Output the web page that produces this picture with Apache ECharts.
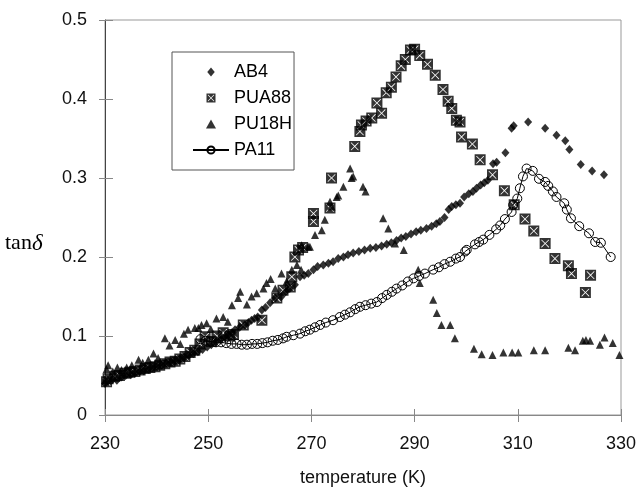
<!DOCTYPE html>
<html><head><meta charset="utf-8">
<script src="https://cdn.jsdelivr.net/npm/echarts@6/dist/echarts.min.js"></script>
<style>html,body{margin:0;padding:0;background:#fff}#c{width:640px;height:496px}</style>
</head><body><div id="c"></div>
<script>
// ---- data (temperature K, tan delta) ----
const seriesNames = ['AB4', 'PUA88', 'PU18H', 'PA11'];
const xTicks = [230, 250, 270, 290, 310, 330];
const yTicks = [0, 0.1, 0.2, 0.3, 0.4, 0.5];

const ab4T = [230.0,230.6,231.5,232.3,233.2,234.0,235.0,235.8,236.7,237.5,238.4,239.3,240.1,241.0,241.9,242.8,243.6,244.5,245.4,246.2,247.1,248.0,248.9,249.8,250.6,251.5,252.4,253.2,253.9,254.6,255.2,256.1,257.1,257.8,258.4,259.0,259.6,260.4,261.1,262.0,263.0,264.2,265.0,265.8,266.8,267.8,268.6,269.4,270.4,271.2,272.3,273.3,274.2,275.2,276.2,277.1,278.1,279.2,280.3,281.4,282.5,283.6,284.6,285.5,286.5,287.4,288.3,289.3,290.3,291.2,292.3,293.3,294.2,294.9,295.8,296.6,297.2,298.0,298.8,299.6,300.5,301.3,302.0,302.8,303.5,304.2,305.2,305.9,307.6,308.8,309.2,312.0,315.3,317.5,319.2,320.0,322.2,324.4,326.7];
const ab4Y = [0.040,0.043,0.045,0.044,0.048,0.050,0.051,0.053,0.055,0.056,0.058,0.060,0.062,0.063,0.066,0.067,0.069,0.071,0.073,0.075,0.078,0.080,0.083,0.086,0.089,0.092,0.095,0.098,0.101,0.104,0.108,0.111,0.114,0.117,0.120,0.122,0.124,0.133,0.136,0.142,0.148,0.150,0.156,0.160,0.165,0.175,0.177,0.179,0.184,0.188,0.190,0.192,0.194,0.198,0.200,0.203,0.205,0.207,0.209,0.211,0.212,0.214,0.216,0.218,0.221,0.224,0.226,0.229,0.232,0.234,0.236,0.239,0.242,0.245,0.250,0.260,0.264,0.266,0.268,0.276,0.280,0.283,0.287,0.291,0.294,0.297,0.318,0.320,0.332,0.363,0.366,0.371,0.363,0.354,0.347,0.336,0.317,0.309,0.304];

const pua88T = [230.3,230.6,231.9,232.8,233.9,234.8,235.8,236.8,237.8,238.7,239.7,240.6,241.6,242.6,243.6,244.5,245.5,246.5,247.4,248.4,249.4,250.6,251.7,252.9,254.2,254.9,256.8,260.4,263.3,264.5,265.9,266.2,266.8,267.5,268.3,270.4,270.4,273.6,273.9,278.4,279.4,279.7,280.6,281.7,282.7,283.6,284.5,285.5,286.4,287.4,288.2,289.2,290.0,291.0,292.5,294.0,295.5,296.5,297.2,298.1,298.8,299.1,301.2,302.7,305.1,307.4,309.3,311.4,313.1,315.3,317.2,319.8,320.4,323.1,324.1];
const pua88Y = [0.042,0.046,0.049,0.050,0.053,0.054,0.055,0.057,0.059,0.060,0.061,0.063,0.065,0.067,0.068,0.071,0.074,0.079,0.082,0.090,0.099,0.093,0.100,0.104,0.100,0.102,0.114,0.120,0.148,0.158,0.162,0.175,0.200,0.209,0.212,0.245,0.255,0.262,0.300,0.340,0.359,0.367,0.372,0.376,0.395,0.382,0.408,0.415,0.428,0.442,0.450,0.462,0.463,0.455,0.444,0.430,0.412,0.397,0.388,0.373,0.371,0.352,0.343,0.323,0.304,0.284,0.266,0.248,0.233,0.217,0.198,0.189,0.179,0.155,0.177];

const pu18hT = [230.3,230.6,231.5,232.4,233.2,234.2,235.2,236.5,237.3,238.4,239.4,240.3,241.6,242.5,243.6,244.6,245.3,246.1,247.4,248.1,248.7,249.7,250.5,251.6,252.9,253.8,254.6,255.8,256.2,257.5,258.4,259.4,260.7,261.3,262.1,263.0,264.2,265.2,266.2,267.2,268.0,268.1,269.4,269.7,270.7,272.0,272.6,273.6,273.9,274.9,275.2,276.2,277.5,277.8,278.1,280.0,280.5,283.9,284.9,286.2,287.9,290.7,291.0,293.6,294.3,295.2,296.9,297.8,301.5,303.0,305.1,307.2,308.9,310.1,313.1,315.3,319.8,321.1,322.6,323.2,324.0,325.9,326.8,328.4,329.7];
const pu18hY = [0.058,0.063,0.055,0.060,0.057,0.060,0.063,0.070,0.066,0.070,0.078,0.072,0.097,0.088,0.095,0.090,0.103,0.108,0.110,0.110,0.114,0.116,0.109,0.122,0.124,0.118,0.139,0.148,0.156,0.140,0.150,0.154,0.160,0.167,0.172,0.160,0.179,0.169,0.184,0.190,0.184,0.215,0.213,0.213,0.228,0.234,0.247,0.270,0.264,0.276,0.278,0.289,0.312,0.300,0.302,0.289,0.283,0.249,0.236,0.217,0.209,0.184,0.167,0.146,0.129,0.114,0.114,0.097,0.084,0.077,0.076,0.079,0.079,0.079,0.082,0.082,0.085,0.082,0.094,0.095,0.094,0.089,0.098,0.091,0.076];

const pa11T = [248.5,249.5,250.5,251.5,252.5,253.5,254.5,255.5,256.5,257.5,258.5,259.5,260.5,261.5,262.5,263.5,264.5,265.2,266.5,267.8,268.8,269.7,270.7,271.7,272.8,274.2,275.5,276.5,277.5,278.5,279.4,280.5,281.6,282.7,283.7,284.6,285.6,286.5,287.6,288.7,289.8,290.9,292.0,293.6,294.7,295.8,296.9,298.0,298.8,299.8,300.1,301.7,302.5,303.3,304.5,305.8,306.6,307.5,308.8,309.1,309.9,310.4,311.0,311.7,312.9,314.1,315.3,315.9,316.8,317.5,319.0,319.5,320.3,321.9,323.8,325.0,326.1,328.0];
const pa11Y = [0.096,0.094,0.093,0.092,0.092,0.091,0.090,0.090,0.089,0.089,0.090,0.090,0.091,0.092,0.094,0.095,0.097,0.099,0.101,0.103,0.106,0.108,0.111,0.114,0.117,0.120,0.124,0.127,0.130,0.134,0.137,0.139,0.141,0.143,0.148,0.152,0.156,0.160,0.164,0.169,0.173,0.176,0.179,0.184,0.187,0.191,0.194,0.198,0.200,0.207,0.209,0.216,0.219,0.222,0.228,0.235,0.240,0.248,0.257,0.266,0.274,0.287,0.302,0.312,0.309,0.299,0.295,0.290,0.283,0.276,0.268,0.260,0.249,0.239,0.230,0.219,0.218,0.200];

// ---- chart ----
const pair = (xs, ys) => xs.map((x, i) => [x, ys[i]]);
const boxX = 'path://M0 0L20 0L20 3L0 3Z M0 17L20 17L20 20L0 20Z M0 3L3 3L3 17L0 17Z M17 3L20 3L20 17L17 17Z M4 3L16 3L10 9Z M17 4L17 16L11 10Z M16 17L4 17L10 11Z M3 16L3 4L9 10Z';
const diamondPath = 'path://M5 0L10 6L5 12L0 6Z';
const trianglePath = 'path://M5 0L10 9L0 9Z';
const FONT = 'Liberation Sans, Arial, sans-serif';
const SERIF = 'Liberation Serif, Times New Roman, serif';

const chart = echarts.init(document.getElementById('c'), null, {renderer: 'canvas'});
const xAxisBase = {
  type: 'value', min: xTicks[0], max: xTicks[xTicks.length - 1], interval: 20,
  position: 'bottom', gridIndex: 0, splitLine: {show: false}
};
const yAxisBase = {
  type: 'value', min: yTicks[0], max: yTicks[yTicks.length - 1], interval: 0.1,
  position: 'left', gridIndex: 0, splitLine: {show: false}
};
chart.setOption({
  animation: false,
  backgroundColor: '#fff',
  grid: {left: 105, right: 19, top: 20, bottom: 81, show: true, borderColor: '#999', borderWidth: 1,
         backgroundColor: 'transparent', containLabel: false, outerBoundsMode: 'none'},
  xAxis: [
    Object.assign({}, xAxisBase, {
      name: 'temperature (K)', nameLocation: 'middle', nameGap: 54,
      nameTextStyle: {fontFamily: FONT, fontSize: 18, color: '#111'},
      axisLine: {show: true, lineStyle: {color: '#888', width: 1}},
      axisTick: {show: true, inside: false, length: 7, lineStyle: {color: '#888'}},
      axisLabel: {fontFamily: FONT, fontSize: 18, color: '#111', margin: 20}
    }),
    Object.assign({}, xAxisBase, {
      axisLine: {show: false},
      axisTick: {show: true, inside: true, length: 6, lineStyle: {color: '#888'}},
      axisLabel: {show: false}
    })
  ],
  yAxis: [
    Object.assign({}, yAxisBase, {
      axisLine: {show: true, lineStyle: {color: '#444', width: 1}},
      axisTick: {show: true, inside: false, length: 6, lineStyle: {color: '#888'}},
      axisLabel: {fontFamily: FONT, fontSize: 18, color: '#111', margin: 18,
        formatter: v => (v === 0 ? '0' : String(Math.round(v * 10) / 10))}
    }),
    Object.assign({}, yAxisBase, {
      axisLine: {show: false},
      axisTick: {show: true, inside: true, length: 8, lineStyle: {color: '#888'}},
      axisLabel: {show: false}
    })
  ],
  legend: {
    orient: 'vertical', left: 172, top: 52,
    padding: [10, 2, 10, 20],
    backgroundColor: '#fff', borderColor: '#555', borderWidth: 1,
    itemWidth: 36, itemHeight: 9, itemGap: 6,
    symbolKeepAspect: true,
    textStyle: {fontFamily: FONT, fontSize: 18, color: '#000', lineHeight: 20},
    data: seriesNames
  },
  graphic: [{
    type: 'text', left: 5, top: 232,
    style: {
      text: '{a|tan}{b|δ}',
      rich: {
        a: {fontFamily: SERIF, fontSize: 22, fill: '#000'},
        b: {fontFamily: SERIF, fontSize: 23, fontStyle: 'italic', fill: '#000'}
      }
    }
  }],
  series: [
    {name: seriesNames[0], type: 'scatter', data: pair(ab4T, ab4Y), symbol: diamondPath, symbolSize: [8, 9],
     itemStyle: {color: '#000'}},
    {name: seriesNames[1], type: 'scatter', data: pair(pua88T, pua88Y), symbol: boxX, symbolSize: 11,
     itemStyle: {color: '#000'}},
    {name: seriesNames[2], type: 'scatter', data: pair(pu18hT, pu18hY), symbol: trianglePath, symbolSize: [8, 8],
     itemStyle: {color: '#000'}},
    {name: seriesNames[3], type: 'line', data: pair(pa11T, pa11Y), symbol: 'circle', symbolSize: 9, showAllSymbol: true,
     lineStyle: {color: '#000', width: 1},
     itemStyle: {color: 'rgba(255,255,255,0)', borderColor: '#000', borderWidth: 1}}
  ]
});
</script>
</body></html>
